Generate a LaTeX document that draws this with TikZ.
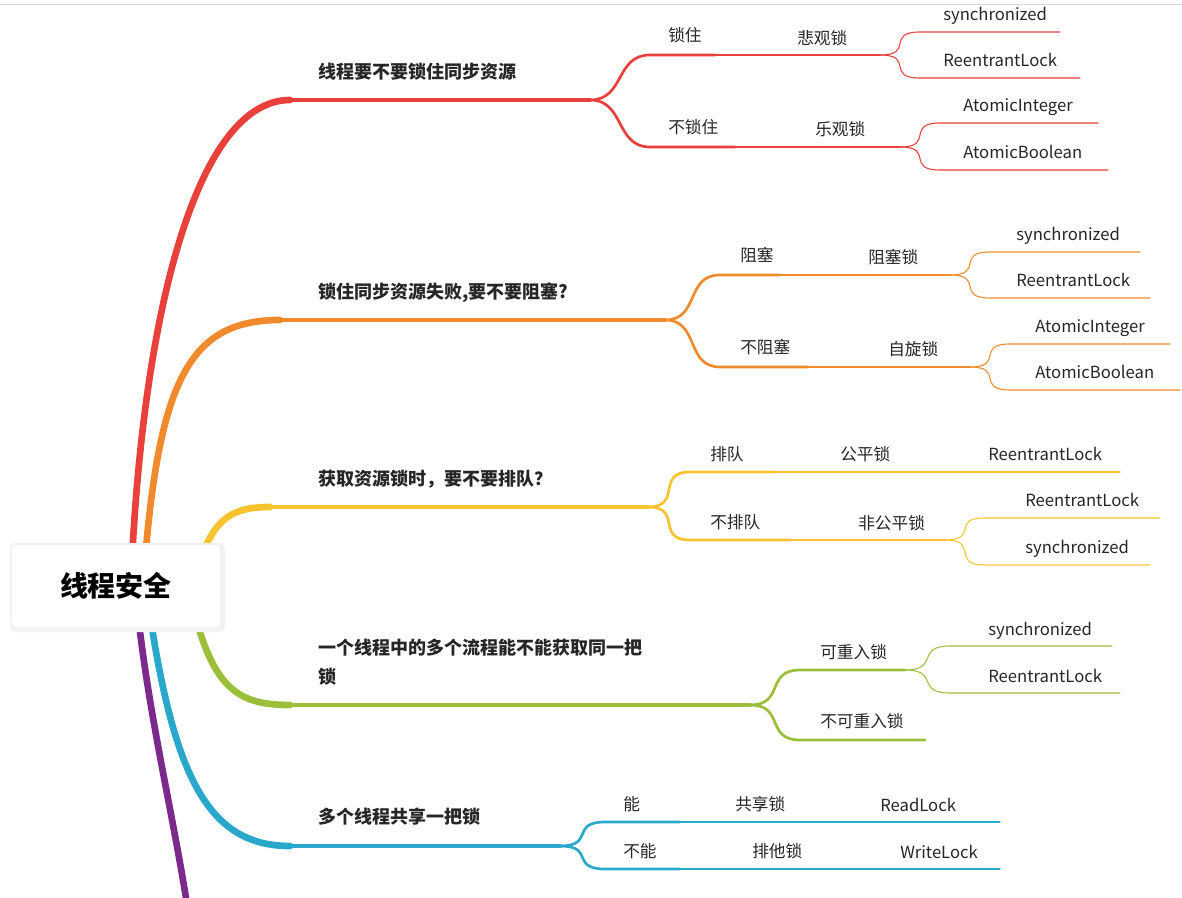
\documentclass[tikz,border=0pt]{standalone}
\usepackage{fontspec}
\setmainfont{Noto Sans CJK SC}
\newcommand\brc[6]{\draw[#1] (#2,#3) .. controls ({#2+35},#3) and ({#4-35},#5) .. (#4,#5) -- (#6,#5);}
\begin{document}
\begin{tikzpicture}[x=0.75pt,y=-0.75pt,line cap=round,
 lbl/.style={anchor=base west,inner sep=0pt,font=\fontsize{12.5}{15}\selectfont,text=black!85},
 mlbl/.style={anchor=base west,inner sep=0pt,font=\fontsize{13.5}{22}\selectfont\bfseries,text=black!85}]
\useasboundingbox (0,0) rectangle (1182,898);
\fill[white] (0,0) rectangle (1182,898);
\draw[black!15] (0,4) -- (1182,4);
\definecolor{cr}{HTML}{E8403A}\definecolor{co}{HTML}{F08A2C}\definecolor{cy}{HTML}{F7C42F}
\definecolor{cg}{HTML}{9CBF3A}\definecolor{cb}{HTML}{2AA8CC}\definecolor{cp}{HTML}{7B2A8C}
% main curves
\draw[cr,line width=5pt] (132,560) .. controls (145,300) and (200,100) .. (290,100);
\draw[cr,line width=2.5pt] (290,100) -- (590,100);
\draw[co,line width=5pt] (145,560) .. controls (160,380) and (190,320) .. (280,320);
\draw[co,line width=2.5pt] (280,320) -- (665,320);
\draw[cy,line width=5pt] (200,560) .. controls (215,520) and (230,507) .. (270,507);
\draw[cy,line width=2.5pt] (270,507) -- (648,507);
\draw[cg,line width=5pt] (195,615) .. controls (215,690) and (240,705) .. (290,705);
\draw[cg,line width=2.5pt] (290,705) -- (750,705);
\draw[cb,line width=5pt] (150,615) .. controls (175,780) and (210,846) .. (290,846);
\draw[cb,line width=2.5pt] (290,846) -- (560,846);
\draw[cp,line width=5pt] (138,615) .. controls (150,720) and (170,800) .. (186,898);
% root
\fill[black!5,rounded corners=4pt] (10,543) rectangle (225,632);
\node[fill=white,rounded corners=3pt,minimum width=208pt*0.75,minimum height=82pt*0.75,font=\fontsize{21}{25}\selectfont\bfseries] (root) at (116,586) {线程安全};
% red
\node[mlbl] (r0) at (318,79) {线程要不要锁住同步资源};
\brc{cr,line width=2pt}{590}{100}{650}{55}{715}
\brc{cr,line width=2pt}{590}{100}{650}{147}{735}
\draw[cr,line width=0.8pt] (715,55) -- (880,55); \draw[cr,line width=0.8pt] (735,147) -- (900,147);
\node[lbl] at (668,42) {锁住}; \node[lbl] at (797,45) {悲观锁};
\node[lbl] at (668,134) {不锁住}; \node[lbl] at (815,136) {乐观锁};
\brc{cr,line width=0.8pt}{880}{55}{920}{32}{1060}\brc{cr,line width=0.8pt}{880}{55}{920}{78}{1080}
\brc{cr,line width=0.8pt}{900}{147}{940}{123}{1098}\brc{cr,line width=0.8pt}{900}{147}{940}{170}{1108}
\node[lbl] at (943,21) {synchronized}; \node[lbl] at (943,67) {ReentrantLock};
\node[lbl] at (963,112) {AtomicInteger}; \node[lbl] at (963,159) {AtomicBoolean};
% orange
\node[mlbl] (o0) at (318,299) {锁住同步资源失败,要不要阻塞?};
\brc{co,line width=2pt}{665}{320}{720}{275}{780}
\brc{co,line width=2pt}{665}{320}{720}{367}{808}
\draw[co,line width=0.8pt] (780,275) -- (950,275); \draw[co,line width=0.8pt] (808,367) -- (970,367);
\node[lbl] at (740,262) {阻塞}; \node[lbl] at (868,264) {阻塞锁};
\node[lbl] at (740,354) {不阻塞}; \node[lbl] at (888,356) {自旋锁};
\brc{co,line width=0.8pt}{950}{275}{990}{252}{1140}\brc{co,line width=0.8pt}{950}{275}{990}{298}{1150}
\brc{co,line width=0.8pt}{970}{367}{1010}{344}{1170}\brc{co,line width=0.8pt}{970}{367}{1010}{390}{1180}
\node[lbl] at (1016,241) {synchronized}; \node[lbl] at (1016,287) {ReentrantLock};
\node[lbl] at (1035,333) {AtomicInteger}; \node[lbl] at (1035,379) {AtomicBoolean};
% yellow
\node[mlbl] (y0) at (318,485) {获取资源锁时，要不要排队？};
\brc{cy,line width=2pt}{648}{507}{690}{472}{775}
\brc{cy,line width=2pt}{648}{507}{690}{540}{790}
\draw[cy,line width=0.8pt] (775,472) -- (1120,472); \draw[cy,line width=0.8pt] (790,540) -- (945,540);
\node[lbl] at (710,460) {排队}; \node[lbl] at (840,461) {公平锁}; \node[lbl] at (988,461) {ReentrantLock};
\node[lbl] at (710,528) {不排队}; \node[lbl] at (858,529) {非公平锁};
\brc{cy,line width=0.8pt}{945}{540}{985}{518}{1160}\brc{cy,line width=0.8pt}{945}{540}{985}{565}{1150}
\node[lbl] at (1025,507) {ReentrantLock}; \node[lbl] at (1025,553) {synchronized};
% green
\node[mlbl] (g0) at (318,654) {一个线程中的多个流程能不能获取同一把};
\node[mlbl] (g1) at (318,683) {锁};
\brc{cg,line width=2pt}{750}{705}{800}{670}{905}
\brc{cg,line width=2pt}{750}{705}{800}{740}{925}
\node[lbl] at (820,658) {可重入锁}; \node[lbl] at (820,727) {不可重入锁};
\brc{cg,line width=0.8pt}{905}{670}{950}{646}{1112}\brc{cg,line width=0.8pt}{905}{670}{950}{693}{1120}
\node[lbl] at (988,635) {synchronized}; \node[lbl] at (988,682) {ReentrantLock};
% blue
\node[mlbl] (b0) at (318,823) {多个线程共享一把锁};
\brc{cb,line width=2pt}{560}{846}{605}{822}{680}
\brc{cb,line width=2pt}{560}{846}{605}{869}{680}
\draw[cb,line width=0.8pt] (680,822) -- (1000,822); \draw[cb,line width=0.8pt] (680,869) -- (1000,869);
\node[lbl] at (623,810) {能}; \node[lbl] at (735,810) {共享锁}; \node[lbl] at (880,811) {ReadLock};
\node[lbl] at (623,857) {不能}; \node[lbl] at (752,857) {排他锁}; \node[lbl] at (900,858) {WriteLock};
\end{tikzpicture}
\end{document}
